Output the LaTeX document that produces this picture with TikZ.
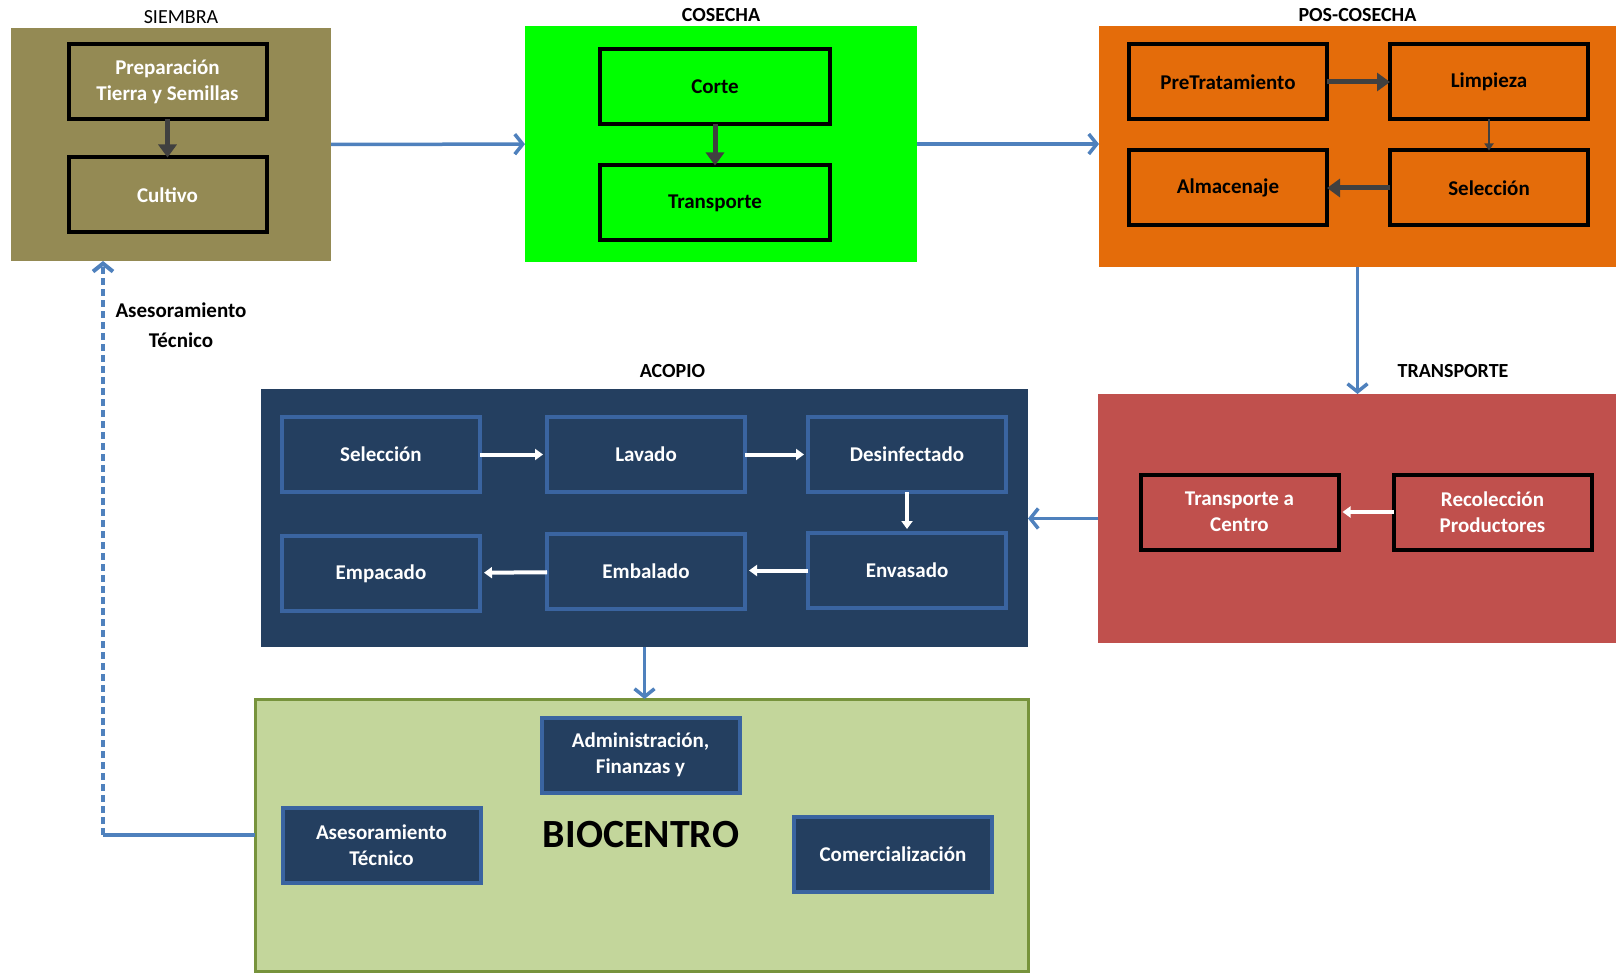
\documentclass[tikz,border=0pt]{standalone}
\usepackage{fontspec}
\setmainfont{Carlito}
\usepackage{tikz}
\usetikzlibrary{positioning, arrows.meta}

\definecolor{siembraolive}{HTML}{948A54}
\definecolor{cosechagreen}{HTML}{00FF00}
\definecolor{posorange}{HTML}{E46C0A}
\definecolor{transred}{HTML}{C0504D}
\definecolor{acopionavy}{HTML}{243F60}
\definecolor{acopioedge}{HTML}{3A64A0}
\definecolor{biofill}{HTML}{C3D69B}
\definecolor{bioedge}{HTML}{77933C}
\definecolor{flowblue}{HTML}{4F81BD}
\definecolor{darkgrey}{HTML}{404040}

\begin{document}
\begin{tikzpicture}[x=1pt, y=-1pt, node distance=40pt,
        panel/.style={rectangle, inner sep=0pt, outer sep=0pt},
        title/.style={inner sep=0pt, font=\fontsize{20}{24}\selectfont\bfseries},
        stepbox/.style={rectangle, draw=black, line width=4pt, outer sep=0pt,
            minimum width=198pt, minimum height=75pt, align=center,
            font=\fontsize{21}{26}\selectfont\bfseries},
        navybox/.style={stepbox, draw=acopioedge, fill=acopionavy, text=white},
        flow/.style={draw=flowblue, line width=3.5pt, -{Straight Barb[length=8pt, width=20pt]}},
        darkflow/.style={draw=darkgrey, line width=5pt, -{Triangle[length=13pt, width=18pt]}},
        thinflow/.style={draw=darkgrey, line width=2pt, -{Triangle[length=7pt, width=9pt]}},
        whiteflow/.style={draw=white, line width=4pt, -{Triangle[length=8pt, width=11pt]}, shorten >=4pt}]

    \useasboundingbox (0,0) rectangle (1616,973);

    % etapas
    \node (Siembra)    [panel, fill=siembraolive, minimum width=320pt, minimum height=233pt] at (171,144.5) {};
    \node (Cosecha)    [panel, fill=cosechagreen, minimum width=392pt, minimum height=236pt] at (721,144) {};
    \node (PosCosecha) [panel, fill=posorange, minimum width=517pt, minimum height=241pt] at (1357.5,146.5) {};
    \node (TransP)     [panel, fill=transred, minimum width=518pt, minimum height=249pt] at (1357,518.5) {};
    \node (Acopio)     [panel, fill=acopionavy, minimum width=767pt, minimum height=258pt] at (644.5,518) {};
    \node (Biocentro)  [panel, fill=biofill, draw=bioedge, line width=3pt, minimum width=773pt, minimum height=272pt] at (641.5,835) {};

    \node [title, font=\fontsize{20}{24}\selectfont, above=4pt of Siembra, xshift=10pt] {SIEMBRA};
    \node [title, above=4pt of Cosecha]               {COSECHA};
    \node [title, above=4pt of PosCosecha]            {POS-COSECHA};
    \node [title, above=16pt of TransP, xshift=96pt]  {TRANSPORTE};
    \node [title, above=11pt of Acopio, xshift=28pt]  {ACOPIO};

    % siembra
    \node (Prep)    [stepbox, text=white] at (167.5,82) {Preparación\\Tierra y Semillas};
    \node (Cultivo) [stepbox, text=white, below=38pt of Prep] {Cultivo};
    \draw [darkflow] (Prep) -- (Cultivo);

    % cosecha
    \node (Corte)  [stepbox, minimum width=230pt] at (715,87) {Corte};
    \node (TransC) [stepbox, minimum width=230pt, below=41pt of Corte] {Transporte};
    \draw [darkflow] (Corte) -- (TransC);

    % pos-cosecha
    \node (PreTrat)    [stepbox] at (1228,82) {PreTratamiento};
    \node (Limpieza)   [stepbox, right=63pt of PreTrat] {Limpieza};
    \node (Almacenaje) [stepbox, below=31pt of PreTrat] {Almacenaje};
    \node (SelP)       [stepbox, below=31pt of Limpieza] {Selección};
    \draw [darkflow]  (PreTrat) -- (Limpieza);
    \draw [thinflow]  (Limpieza) -- (SelP);
    \draw [darkflow]  (SelP) -- (Almacenaje);

    % transporte
    \node (Centro)     [stepbox, text=white] at (1239.5,512) {Transporte a\\Centro};
    \node (Recoleccion) [stepbox, text=white, right=55pt of Centro] {Recolección\\Productores};
    \draw [whiteflow] (Recoleccion) -- (Centro);

    % acopio
    \node (SelA)     [navybox] at (381,454.5) {Selección};
    \node (Lavado)   [navybox, right=67pt of SelA] {Lavado};
    \node (Desinf)   [navybox, right=63pt of Lavado] {Desinfectado};
    \node (Envasado) [navybox, below=41pt of Desinf] {Envasado};
    \node (Embalado) [navybox, below=42pt of Lavado] {Embalado};
    \node (Empacado) [navybox, below=44pt of SelA] {Empacado};
    \draw [whiteflow] (SelA) -- (Lavado);
    \draw [whiteflow] (Lavado) -- (Desinf);
    \draw [whiteflow] (Desinf) -- (Envasado);
    \draw [whiteflow] (Envasado) -- (Envasado.west -| Embalado.east);
    \draw [whiteflow] (Embalado) -- (Empacado);

    % biocentro
    \node (Admin)   [navybox] at (640.5,755) {Administración,\\Finanzas y};
    \node (Asesor)  [navybox] at (381.5,845.5) {Asesoramiento\\Técnico};
    \node (Comerc)  [navybox] at (893,854.5) {Comercialización};
    \node (BioText) [font=\fontsize{40}{44}\selectfont\bfseries] at (641,835) {BIOCENTRO};

    % flujo principal
    \draw [flow] (Siembra) -- (Cosecha);
    \draw [flow] (Cosecha.east) -- (Cosecha.east -| PosCosecha.west);
    \draw [flow] (PosCosecha.south) -- (PosCosecha.south |- TransP.north);
    \draw [flow] (TransP.west) -- (TransP.west -| Acopio.east);
    \draw [flow] (Acopio.south) -- (Acopio.south |- Biocentro.north);

    % retorno
    \coordinate (Bend) at (103,835);
    \draw [draw=flowblue, line width=3.5pt] (Biocentro.west) -- (Bend);
    \draw [flow, line width=4pt, dash pattern=on 7pt off 4pt] (Bend) -- (Bend |- Siembra.south);
    \node (AsesorLbl) [align=center, font=\fontsize{21}{30}\selectfont\bfseries] at (181,325) {Asesoramiento\\Técnico};
\end{tikzpicture}
\end{document}
